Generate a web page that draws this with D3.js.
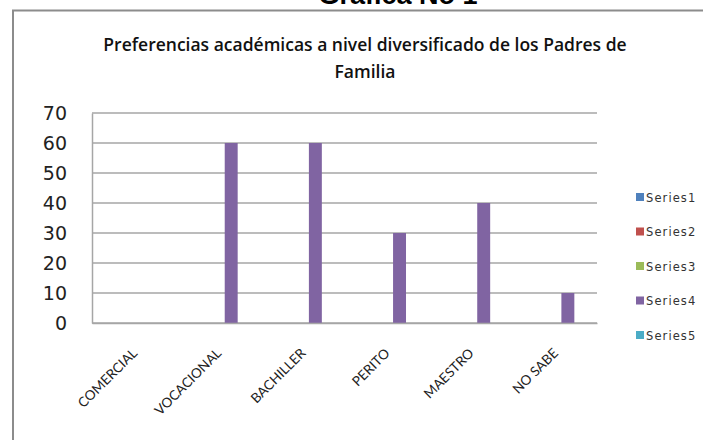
<!DOCTYPE html>
<html>
<head>
<meta charset="utf-8">
<script src="https://cdn.jsdelivr.net/npm/d3@7"></script>
<style>
  body { margin: 0; background: #fff; }
  svg { display: block; }
</style>
</head>
<body>
<div id="display"></div>
<script>
const categories = ['COMERCIAL', 'VOCACIONAL', 'BACHILLER', 'PERITO', 'MAESTRO', 'NO SABE']
const seriesNames = ['Series1', 'Series2', 'Series3', 'Series4', 'Series5']
const seriesColors = ['#4f81bd', '#c0504d', '#9bbb59', '#8064a2', '#4bacc6']
const series1 = [0, 0, 0, 0, 0, 0]
const series2 = [0, 0, 0, 0, 0, 0]
const series3 = [0, 0, 0, 0, 0, 0]
const series4 = [0, 60, 60, 30, 40, 10]
const series5 = [0, 0, 0, 0, 0, 0]
const yTicks = [0, 10, 20, 30, 40, 50, 60, 70]

const allSeries = [series1, series2, series3, series4, series5]

const width = 703, height = 440
const margin = {top: 113, right: 106, bottom: 117, left: 92}

const svg = d3.select('#display').append('svg')
    .attr('width', width)
    .attr('height', height)

// outer frame
svg.append('rect')
    .attr('x', 13).attr('y', 10.5)
    .attr('width', 720).attr('height', 460)
    .attr('fill', 'none')
    .attr('stroke', '#8c8c8c')
    .attr('stroke-width', 2)

// page title, cut off at top
svg.append('text')
    .attr('x', 398).attr('y', 4)
    .attr('text-anchor', 'middle')
    .style('font-family', 'Liberation Sans, Arial, sans-serif')
    .style('font-weight', 'bold')
    .style('font-size', '27px')
    .text('Grafica No 1')

const titleLines = ['Preferencias académicas a nivel diversificado de los Padres de', 'Familia']
svg.selectAll('.title').data(titleLines)
    .enter()
    .append('text')
        .attr('class', 'title')
        .attr('x', 365)
        .attr('y', (d, i) => 51 + i * 27)
        .attr('text-anchor', 'middle')
        .style('font-family', 'Open Sans, sans-serif')
        .style('font-weight', 600)
        .style('font-size', '17.5px')
        .attr('fill', '#111')
        .text(d => d)

const xScale = d3.scaleBand()
    .domain(categories)
    .range([margin.left, width - margin.right])

const xSeries = d3.scaleBand()
    .domain(seriesNames)
    .range([0, xScale.bandwidth()])
    .paddingOuter(0.75)

const yScale = d3.scaleLinear()
    .domain([0, 70])
    .range([height - margin.bottom, margin.top])

// gridlines
svg.append('g')
    .selectAll('line').data(yTicks)
    .enter()
    .append('line')
        .attr('x1', margin.left)
        .attr('x2', width - margin.right)
        .attr('y1', d => yScale(d))
        .attr('y2', d => yScale(d))
        .attr('stroke', '#a6a6a6')
        .attr('stroke-width', 1.5)

// bars
seriesNames.forEach((name, s) => {
    svg.append('g')
        .selectAll('rect').data(allSeries[s].map((v, i) => ({cat: categories[i], v})))
        .enter()
        .filter(d => d.v > 0)
        .append('rect')
            .attr('x', d => xScale(d.cat) + xSeries(name))
            .attr('width', xSeries.bandwidth())
            .attr('y', d => yScale(d.v))
            .attr('height', d => yScale(0) - yScale(d.v))
            .attr('fill', seriesColors[s])
})

// y axis
const yAxis = svg.append('g')
    .attr('transform', 'translate(' + margin.left + ',0)')
    .call(d3.axisLeft(yScale).tickValues(yTicks).tickSize(0).tickPadding(25))
yAxis.select('.domain').attr('stroke', '#a6a6a6').attr('stroke-width', 1.5)
yAxis.selectAll('text')
    .style('font-family', 'DejaVu Sans, sans-serif')
    .style('font-size', '19px')
    .attr('fill', '#222')

// x axis
const xAxis = svg.append('g')
    .attr('transform', 'translate(0,' + yScale(0) + ')')
    .call(d3.axisBottom(xScale).tickSize(0).tickFormat(''))
xAxis.select('.domain').attr('stroke', '#a6a6a6').attr('stroke-width', 1.5)

svg.append('g')
    .selectAll('text').data(categories)
    .enter()
    .append('text')
        .attr('transform', d => 'translate(' + (xScale(d) + xScale.bandwidth() / 2 + 4) + ',' + (yScale(0) + 31) + ') rotate(-45)')
        .attr('text-anchor', 'end')
        .style('font-family', 'Lato, sans-serif')
        .style('font-size', '13.5px')
        .attr('fill', '#222')
        .text(d => d)

// legend
const legend = svg.append('g')
    .selectAll('g').data(seriesNames)
    .enter()
    .append('g')
        .attr('transform', (d, i) => 'translate(636,' + (197 + i * 34.5) + ')')
legend.append('rect')
    .attr('x', 0).attr('y', -4)
    .attr('width', 8).attr('height', 8)
    .attr('fill', (d, i) => seriesColors[i])
legend.append('text')
    .attr('x', 10).attr('y', 4.5)
    .style('font-family', 'DejaVu Sans, sans-serif')
    .style('font-size', '11.5px')
    .style('letter-spacing', '1.1px')
    .attr('fill', '#333')
    .text(d => d)
</script>
</body>
</html>
